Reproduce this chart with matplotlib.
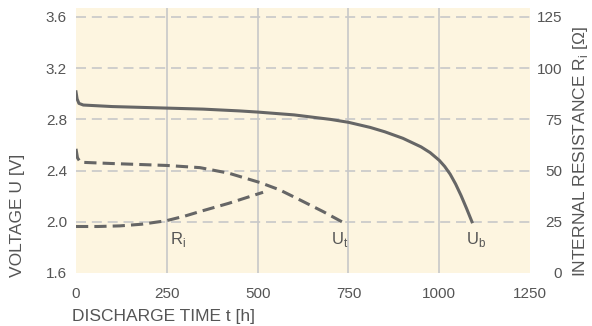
import matplotlib.pyplot as plt

plt.rcParams['font.family'] = ['Liberation Sans', 'DejaVu Sans']

# discharge curves (hours, volts / ohms)
t_ub = [0, 3, 8, 20, 100, 250, 350, 450, 500, 600, 700, 750, 810, 850, 900, 950, 975, 1000, 1015, 1030, 1045, 1060, 1075, 1090]
u_b = [3.015, 2.96, 2.925, 2.912, 2.90, 2.888, 2.88, 2.866, 2.857, 2.835, 2.80, 2.777, 2.737, 2.703, 2.652, 2.585, 2.54, 2.48, 2.432, 2.372, 2.295, 2.205, 2.105, 2.0]

t_ut = [0, 4, 12, 100, 250, 341, 420, 507, 560, 617, 680, 732]
u_t = [2.57, 2.50, 2.465, 2.455, 2.44, 2.423, 2.38, 2.306, 2.25, 2.17, 2.08, 2.0]

t_ri = [0, 60, 121, 180, 248, 300, 341, 420, 515]
r_i = [22.7, 22.7, 23.0, 23.8, 25.5, 27.8, 30.0, 34.0, 39.4]

x_ticks = [0, 250, 500, 750, 1000, 1250]
v_ticks = [1.6, 2.0, 2.4, 2.8, 3.2, 3.6]
r_ticks = [0, 25, 50, 75, 100, 125]

txt = '#555555'
line = '#666666'
bg = '#fdf5e0'
grid = '#c8c8c8'
v_top = 3.67

fig = plt.figure(figsize=(5.92, 3.26), dpi=100)
ax = fig.add_axes([0.1284, 0.1626, 0.767, 0.8129])
ax.set_facecolor(bg)
ax.set_xlim(0, 1250)
ax.set_ylim(1.6, v_top)

for x in x_ticks[1:-1]:
    ax.axvline(x, color=grid, lw=1.2, zorder=1)
for v in v_ticks[1:]:
    ax.axhline(v, color=grid, lw=1.2, dashes=(6, 3.5), zorder=1)

ax.plot(t_ub, u_b, color=line, lw=2.2, zorder=3)
ax.plot(t_ut, u_t, color=line, lw=2.2, dashes=(4, 2), zorder=3)

ax2 = ax.twinx()
ax2.set_ylim(0, 125 * (v_top - 1.6) / 2.0)
ax2.plot(t_ri, r_i, color=line, lw=2.2, dashes=(4, 2), zorder=3)

ax.text(281, 1.935, 'R$_\\mathregular{i}$', color=txt, fontsize=12, ha='center', va='top')
ax.text(727, 1.935, 'U$_\\mathregular{t}$', color=txt, fontsize=12, ha='center', va='top')
ax.text(1102, 1.935, 'U$_\\mathregular{b}$', color=txt, fontsize=12, ha='center', va='top')

for a in (ax, ax2):
    for s in a.spines.values():
        s.set_visible(False)
    a.tick_params(length=0, colors=txt, labelsize=11)

ax.set_xticks(x_ticks)
ax.set_yticks(v_ticks)
ax.set_yticklabels(['%.1f' % v for v in v_ticks])
ax2.set_yticks(r_ticks)
for lab in ax2.get_yticklabels():
    lab.set_horizontalalignment('right')
ax.tick_params(axis='x', pad=10)
ax.tick_params(axis='y', pad=6.5)
ax2.tick_params(axis='y', pad=23)

fig.text(72 / 592, 1 - 317 / 326, 'DISCHARGE TIME t [h]', color=txt, fontsize=12.5,
         ha='left', va='center')
fig.text(18 / 592, 1 - 277 / 326, 'VOLTAGE U [V]', color=txt, fontsize=12.5,
         rotation=90, ha='center', va='bottom')
fig.text(581 / 592, 1 - 277 / 326, 'INTERNAL RESISTANCE R$_\\mathregular{i}$ [\u03a9]', color=txt,
         fontsize=12.5, rotation=90, ha='center', va='bottom')

fig.savefig('out.png', dpi=100, facecolor='white')
